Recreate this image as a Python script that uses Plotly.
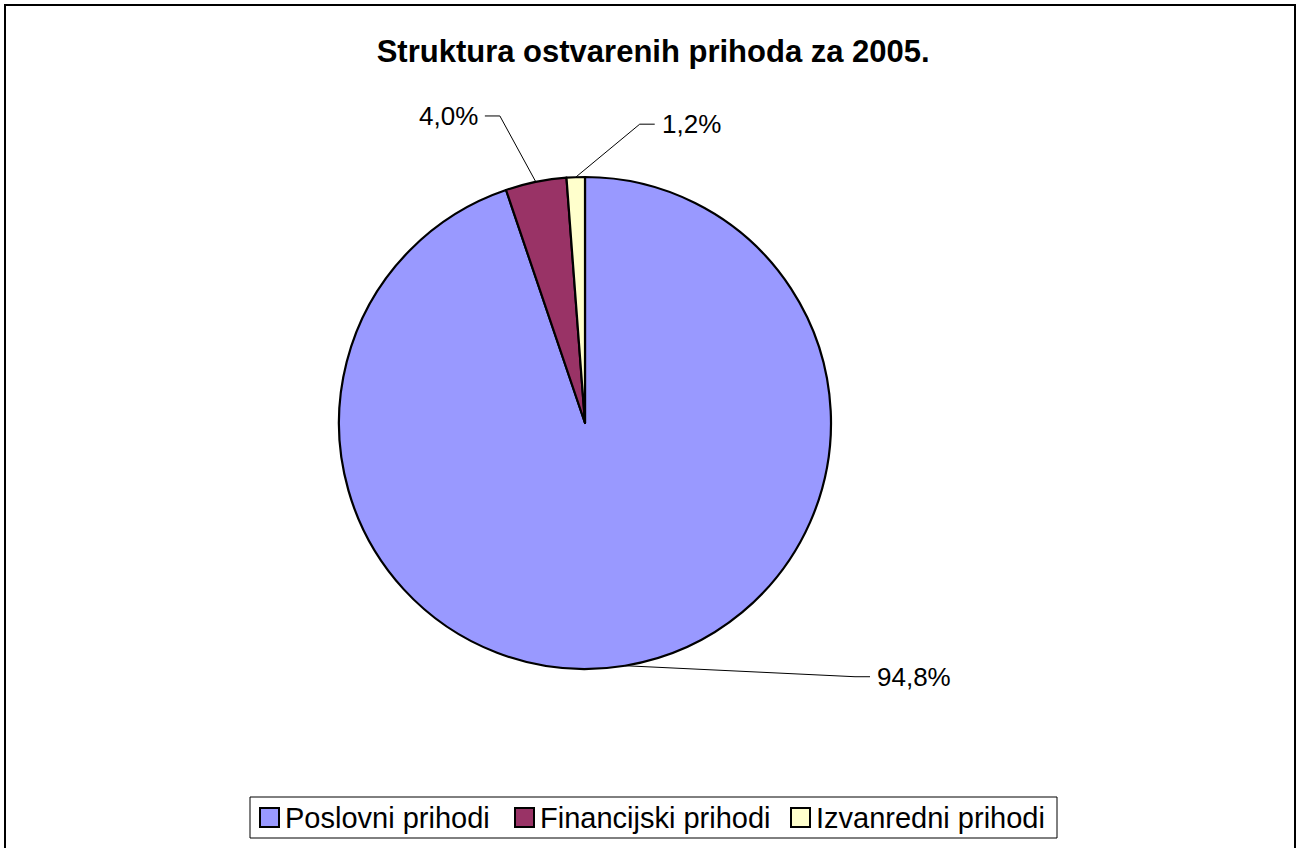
import math
import plotly.graph_objects as go

# ---- data ----
categories = ["Poslovni prihodi", "Financijski prihodi", "Izvanredni prihodi"]
shares = [94.8, 4.0, 1.2]
colors = ["#9999FF", "#993366", "#FFFFCC"]
title_text = "Struktura ostvarenih prihoda za 2005."

# ---- layout (pixels) ----
W, H = 1296, 848
CX, CY, R = 585, 423, 246           # pie centre / radius in px
# label elbow offsets from slice-edge point (px), per slice
label_offsets = [(230, 11), (-36, -66), (64, -53)]
STUB = 15
GAP = 5
FONT = "Liberation Sans, Arial, sans-serif"
# manual legend geometry (px)
LEG_BOX = (250, 797, 1057, 838)
LEG_ITEM_X = [260, 515, 791]
LEG_SQ = 19
LEG_CY = 817.5


def px(x):
    return x / W


def py(y):
    return 1 - y / H


fig = go.Figure(go.Pie(
    labels=categories,
    values=shares,
    sort=False,
    direction="clockwise",
    rotation=0,
    textinfo="none",
    marker=dict(colors=colors, line=dict(color="black", width=2.2)),
    domain=dict(x=[px(CX - R), px(CX + R)], y=[py(CY + R), py(CY - R)]),
    hoverinfo="label+percent",
    showlegend=False,
))

total = sum(shares)
shapes = []
annotations = []
cum = 0.0
for v, (dx, dy) in zip(shares, label_offsets):
    mid = (cum + v / 2) / total * 2 * math.pi
    cum += v
    ex = CX + R * math.sin(mid)
    ey = CY - R * math.cos(mid)
    bx, by = ex + dx, ey + dy
    sgn = 1 if dx > 0 else -1
    sx = bx + sgn * STUB
    shapes.append(dict(
        type="path", xref="paper", yref="paper",
        path=f"M {px(ex)} {py(ey)} L {px(bx)} {py(by)} L {px(sx)} {py(by)}",
        line=dict(color="black", width=1),
    ))
    annotations.append(dict(
        xref="paper", yref="paper",
        x=px(sx + sgn * GAP), y=py(by),
        xanchor="left" if sgn > 0 else "right", yanchor="middle",
        text=f"{v:.1f}".replace(".", ",") + "%",
        showarrow=False,
        font=dict(family=FONT, size=26, color="black"),
    ))

# legend (box, swatches, labels)
lx0, ly0, lx1, ly1 = LEG_BOX
shapes.append(dict(
    type="rect", xref="paper", yref="paper",
    x0=px(lx0), x1=px(lx1), y0=py(ly1), y1=py(ly0),
    line=dict(color="black", width=1), fillcolor="white", layer="below",
))
for name, col, x in zip(categories, colors, LEG_ITEM_X):
    shapes.append(dict(
        type="rect", xref="paper", yref="paper",
        x0=px(x), x1=px(x + LEG_SQ),
        y0=py(LEG_CY + LEG_SQ / 2), y1=py(LEG_CY - LEG_SQ / 2),
        line=dict(color="black", width=2), fillcolor=col,
    ))
    annotations.append(dict(
        xref="paper", yref="paper",
        x=px(x + LEG_SQ + 4), y=py(LEG_CY),
        xanchor="left", yanchor="middle",
        text=name, showarrow=False,
        font=dict(family=FONT, size=29, color="black"),
    ))

# outer chart border
shapes.append(dict(
    type="rect", xref="paper", yref="paper",
    x0=px(5), x1=px(1295), y0=-0.02, y1=py(5),
    line=dict(color="black", width=2), layer="above",
))

fig.update_layout(
    width=W, height=H,
    margin=dict(l=0, r=0, t=0, b=0),
    paper_bgcolor="white",
    plot_bgcolor="white",
    showlegend=False,
    title=dict(
        text=f"<b>{title_text}</b>",
        x=0.504, xanchor="center",
        y=py(51), yanchor="middle", yref="container",
        font=dict(family=FONT, size=31, color="black"),
    ),
    shapes=shapes,
    annotations=annotations,
)

fig.write_html(
    "out.html",
    config={"displayModeBar": False},
    post_script="document.body.style.margin='0px';document.body.style.overflow='hidden';",
)
